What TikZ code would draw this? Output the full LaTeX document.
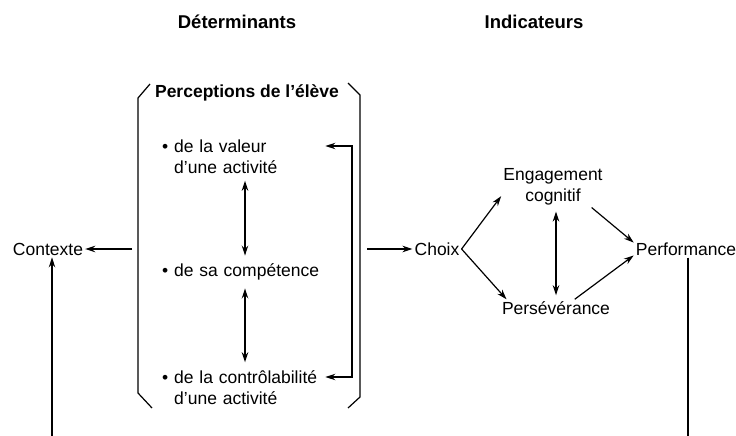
\documentclass[tikz,border=0pt]{standalone}
\usepackage{fontspec}
\setmainfont{Liberation Sans}
\usepackage{tikz}
\usetikzlibrary{arrows.meta}
\tikzstyle{arrow} = [line width=1.2pt,-{Stealth[length=10pt,width=6.5pt]}]
\tikzstyle{dblarrow} = [line width=1.2pt,{Stealth[length=10pt,width=6.5pt]}-{Stealth[length=10pt,width=6.5pt]}]
\tikzstyle{title} = [font=\fontsize{18.5}{22}\selectfont\bfseries]
\tikzstyle{item} = [anchor=west, text width=161pt, align=left]

\begin{document}
\begin{tikzpicture}[x=1pt, y=-1pt, every node/.style={inner sep=2pt, font=\fontsize{17.5}{21}\selectfont}]
    \useasboundingbox (0,0) rectangle (736,436);

    % Nodes
    \node[title] (deter) at (237,22) {Déterminants};
    \node[title] (indic) at (534,22) {Indicateurs};
    \node[font=\fontsize{17.5}{21}\selectfont\bfseries] (percep) at (247,93) {Perceptions de l'élève};

    \node[item] (valeur) at (160,146) {\textbullet{} de la valeur};
    \node[item] (valeurb) at (172,167) {d'une activité};
    \node[item] (compet) at (160,272) {\textbullet{} de sa compétence};
    \node[item] (control) at (160,377) {\textbullet{} de la contrôlabilité};
    \node[item] (controlb) at (172,398) {d'une activité};

    \node (contexte) at (48,249) {Contexte};
    \node (choix) at (437,249) {Choix};
    \node[align=center] (engag) at (553,187) {Engagement\\cognitif};
    \node (persev) at (556,308) {Persévérance};
    \node (perf) at (686,249) {Performance};

    \coordinate (arrx) at (245,0);
    \coordinate (loop) at (352,0);
    \coordinate (brL) at (132,249);
    \coordinate (brR) at (367,249);
    \coordinate (botL) at (52,436);
    \coordinate (botR) at (688,436);

    % Bracket
    \draw[line width=1.2pt] (150,84) -- (138,98) -- (138,393) -- (152,408);
    \draw[line width=1.2pt] (348,83) -- (360,95) -- (360,397) -- (348,408);

    % Edges
    \draw[dblarrow, shorten <=5pt, shorten >=6pt] (valeurb.south -| arrx) -- (compet.north -| arrx);
    \draw[dblarrow, shorten <=6pt, shorten >=6pt] (compet.south -| arrx) -- (control.north -| arrx);
    \draw[dblarrow] (valeur.east) -- (valeur.east -| loop) |- (control.east);

    \draw[arrow] (brL) -- (contexte.east);
    \draw[arrow] (botL) -- (botL |- contexte.south);
    \draw[arrow] (brR) -- (choix.west);

    \draw[arrow] (choix.east) -- (engag.190);
    \draw[arrow] (choix.east) -- (persev.170);
    \draw[dblarrow, shorten <=4pt, shorten >=4pt] (engag.south -| persev.north) -- (persev.north);
    \draw[arrow] (engag.-28) -- (perf.173);
    \draw[arrow] (persev.25) -- (perf.187);
    \draw[line width=1.2pt] (perf.south -| botR) -- (botR);

  \end{tikzpicture}
\end{document}
